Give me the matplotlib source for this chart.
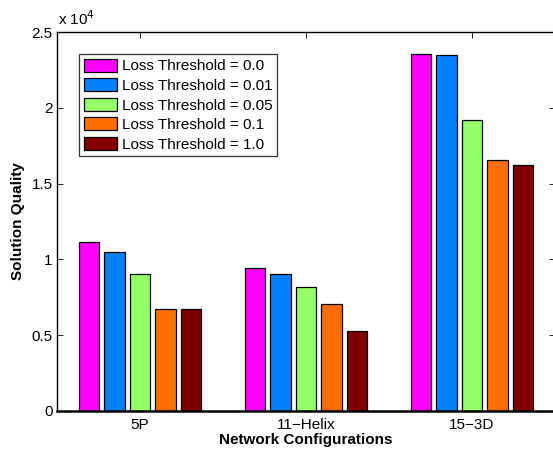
import matplotlib
matplotlib.use("Agg")
import matplotlib.pyplot as plt
import numpy as np

plt.rcParams['font.family'] = ['Liberation Sans', 'DejaVu Sans']

categories = ["5P", "11\u2212Helix", "15\u22123D"]
series_labels = ["Loss Threshold = 0.0", "Loss Threshold = 0.01", "Loss Threshold = 0.05",
                 "Loss Threshold = 0.1", "Loss Threshold = 1.0"]
vals_00 = [11150, 9450, 23570]
vals_001 = [10520, 9020, 23480]
vals_005 = [9050, 8200, 19190]
vals_01 = [6750, 7080, 16580]
vals_10 = [6710, 5280, 16230]
series = [vals_00, vals_001, vals_005, vals_01, vals_10]
colors = ["#FF00FF", "#0080FF", "#94FF66", "#FF6E00", "#800000"]

fig = plt.figure(figsize=(5.53, 4.49), dpi=100)
ax = fig.add_axes([57/553, 1-411/449, (555-57)/553, (411-32)/449])

x = np.arange(1, len(categories)+1)
n = len(series)
spacing = 0.153
width = 0.124
for i, (vals, c, lab) in enumerate(zip(series, colors, series_labels)):
    offs = (i - (n-1)/2) * spacing
    ax.bar(x + offs, np.array(vals)/1e4, width=width, color=c, edgecolor='black',
           linewidth=0.9, label=lab, zorder=2)

ax.set_xlim(0.5, 3.5)
ax.set_ylim(0, 2.5)
ax.set_xticks(x)
ax.set_xticklabels(categories, fontsize=11)
ax.set_yticks([0, 0.5, 1, 1.5, 2, 2.5])
ax.set_yticklabels(["0", "0.5", "1", "1.5", "2", "2.5"], fontsize=11)
ax.tick_params(direction='in', length=4, width=0.6, top=True, right=True, pad=3)
ax.tick_params(axis='x', pad=5)
for s in ax.spines.values():
    s.set_linewidth(1.0)
ax.spines['bottom'].set_linewidth(1.8)

ax.set_xlabel("Network Configurations", fontsize=11, fontweight='bold', labelpad=1)
ax.set_ylabel("Solution Quality", fontsize=11, fontweight='bold', labelpad=5)

fig.text(57/553 + 0.002, 1-25/449, r"x 10$^{4}$", fontsize=11, ha='left', va='baseline')

leg = ax.legend(loc='upper left', bbox_to_anchor=((79-57)/(555-57), (411-54)/(411-32)),
                fontsize=11, frameon=True, fancybox=False, edgecolor='black',
                handlelength=2.2, handleheight=0.95, handletextpad=0.3,
                labelspacing=0.31, borderpad=0.3, borderaxespad=0)
leg.get_frame().set_linewidth(0.9)

fig.savefig("out.png", dpi=100)
